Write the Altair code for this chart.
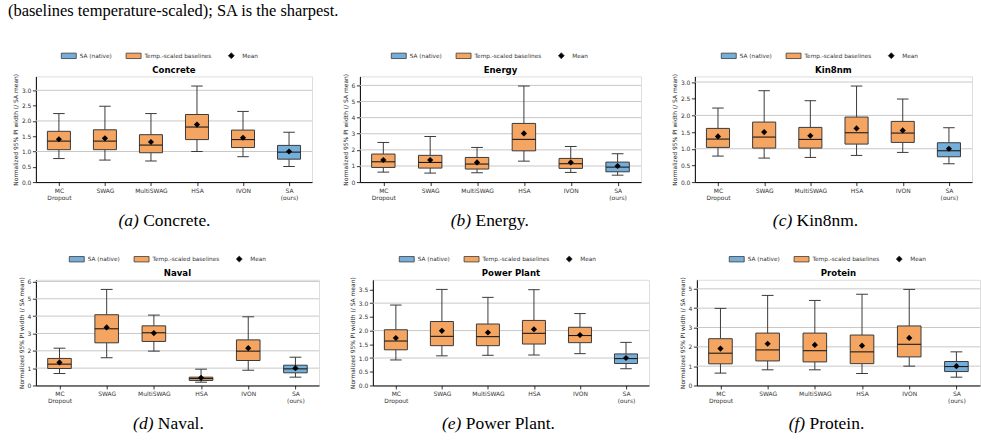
import json
import altair as alt
import pandas as pd

# ---- shared categories -------------------------------------------------
methods = ["MC Dropout", "SWAG", "MultiSWAG", "HSA", "IVON", "SA (ours)"]
tick_lines = [["MC", "Dropout"], ["SWAG"], ["MultiSWAG"], ["HSA"], ["IVON"], ["SA", "(ours)"]]
box_groups = ["Temp.-scaled baselines"] * 5 + ["SA (native)"]
legend_names = ["SA (native)", "Temp.-scaled baselines", "Mean"]

# ---- box statistics (normalized 95% PI width, / SA mean) ---------------
concrete_lo = [0.77, 0.72, 0.69, 1.00, 0.83, 0.51]
concrete_q1 = [1.06, 1.06, 0.96, 1.39, 1.13, 0.75]
concrete_med = [1.34, 1.34, 1.21, 1.80, 1.39, 0.98]
concrete_q3 = [1.66, 1.71, 1.55, 2.21, 1.70, 1.20]
concrete_hi = [2.24, 2.48, 2.24, 3.14, 2.31, 1.63]
concrete_mean = [1.40, 1.43, 1.31, 1.88, 1.45, 1.00]

energy_lo = [0.62, 0.56, 0.58, 1.30, 0.60, 0.43]
energy_q1 = [0.91, 0.87, 0.81, 1.94, 0.85, 0.64]
energy_med = [1.26, 1.22, 1.12, 2.65, 1.14, 0.93]
energy_q3 = [1.74, 1.66, 1.53, 3.64, 1.47, 1.24]
energy_hi = [2.46, 2.83, 2.15, 5.96, 2.21, 1.76]
energy_mean = [1.37, 1.37, 1.22, 3.02, 1.22, 1.00]

kin8nm_lo = [0.78, 0.72, 0.74, 0.80, 0.89, 0.55]
kin8nm_q1 = [1.04, 1.02, 1.02, 1.14, 1.19, 0.76]
kin8nm_med = [1.29, 1.35, 1.28, 1.48, 1.47, 0.94]
kin8nm_q3 = [1.61, 1.80, 1.64, 1.95, 1.82, 1.18]
kin8nm_hi = [2.22, 2.74, 2.44, 2.88, 2.49, 1.63]
kin8nm_mean = [1.37, 1.50, 1.39, 1.61, 1.55, 1.00]

naval_lo = [0.69, 1.60, 1.98, 0.19, 0.88, 0.48]
naval_q1 = [0.98, 2.46, 2.54, 0.29, 1.44, 0.73]
naval_med = [1.23, 3.27, 3.04, 0.40, 1.98, 0.96]
naval_q3 = [1.56, 4.08, 3.44, 0.48, 2.63, 1.17]
naval_hi = [2.15, 5.54, 4.06, 0.94, 3.96, 1.63]
naval_mean = [1.33, 3.35, 3.02, 0.44, 2.15, 1.00]

power_lo = [0.93, 1.08, 1.10, 1.11, 1.16, 0.61]
power_q1 = [1.30, 1.45, 1.45, 1.51, 1.56, 0.80]
power_med = [1.62, 1.79, 1.78, 1.90, 1.82, 0.98]
power_q3 = [2.03, 2.33, 2.24, 2.37, 2.12, 1.15]
power_hi = [2.93, 3.50, 3.21, 3.49, 2.62, 1.57]
power_mean = [1.73, 1.99, 1.93, 2.05, 1.84, 1.00]

protein_lo = [0.64, 0.81, 0.81, 0.62, 1.00, 0.43]
protein_q1 = [1.12, 1.27, 1.22, 1.13, 1.48, 0.72]
protein_med = [1.67, 1.84, 1.80, 1.74, 2.13, 0.98]
protein_q3 = [2.42, 2.71, 2.71, 2.61, 3.08, 1.24]
protein_hi = [3.99, 4.66, 4.40, 4.72, 4.97, 1.74]
protein_mean = [1.91, 2.16, 2.10, 2.06, 2.46, 1.00]

# y tick values per dataset
ticks_half_3 = [0, 0.5, 1.0, 1.5, 2.0, 2.5, 3.0]
ticks_int_6 = [0, 1, 2, 3, 4, 5, 6]
ticks_half_35 = [0, 0.5, 1.0, 1.5, 2.0, 2.5, 3.0, 3.5]
ticks_int_5 = [0, 1, 2, 3, 4, 5]

# ---- styling -----------------------------------------------------------
ORANGE = "#F4A562"
BLUE = "#76AEDA"
EDGE = "#3a3a3a"
SANS = "DejaVu Sans"
SERIF = "Liberation Serif"
PLOT_H = 106
RECT_PATH = "M-1,-0.36H1V0.36H-1Z"
DIAMOND_PATH = "M0,-0.4L0.4,0L0,0.4L-0.4,0Z"

# Times-style advance widths (em) for caption centering
ROMAN_W = {"(": .333, ")": .333, " ": .25, ".": .25, "a": .444, "c": .444, "e": .444,
           "g": .5, "i": .278, "l": .278, "m": .778, "n": .5, "o": .5, "r": .333,
           "t": .278, "v": .5, "w": .722, "y": .5, "8": .5, "C": .667, "E": .611,
           "K": .722, "N": .722, "P": .556}
ITALIC_W = {"(": .333, ")": .333, "a": .5, "b": .5, "c": .444, "d": .5, "e": .444, "f": .278}


def text_width(s, size, table):
    return sum(table.get(ch, 0.5) for ch in s) * size


label_expr = json.dumps(tick_lines) + "[datum.value - 1]"
color_scale = alt.Scale(domain=legend_names, range=[BLUE, ORANGE, "black"])
shape_scale = alt.Scale(domain=legend_names, range=[RECT_PATH, RECT_PATH, DIAMOND_PATH])


def panel(name, letter, lo, q1, med, q3, hi, mean, ticks, fmt, width, legend_x, cap_cx):
    df = pd.DataFrame({
        "method": methods, "pos": list(range(1, len(methods) + 1)), "group": box_groups,
        "lo": lo, "q1": q1, "med": med, "q3": q3, "hi": hi, "mean": mean,
    })
    ymax = 1.1 * max(hi)
    ysc = alt.Scale(domain=[0, ymax], nice=False, zero=True)
    xsc = alt.Scale(domain=[0.5, len(methods) + 0.5], nice=False, zero=False)
    legend = alt.Legend(orient="none", legendX=legend_x, legendY=-29, direction="horizontal",
                        columns=3, title=None, labelFont=SANS, labelFontSize=5.8,
                        labelColor="#333", symbolSize=225, symbolStrokeColor=EDGE,
                        symbolStrokeWidth=0.8, columnPadding=11, labelOffset=3)

    x_axis = alt.Axis(values=list(range(1, len(methods) + 1)), labelExpr=label_expr, title=None,
                      grid=False, tickSize=3.5, tickWidth=0.8, tickColor="black", domainColor="black",
                      domainWidth=1, labelFont=SANS, labelFontSize=6, labelColor="#333",
                      labelPadding=2, labelLineHeight=7, labelAngle=0, labelFlush=False,
                      labelOverlap=False)
    y_axis = alt.Axis(values=ticks, format=fmt, title="Normalized 95% PI width (/ SA mean)",
                      grid=False, tickSize=3.5, tickWidth=0.8, tickColor="black", domainColor="black",
                      domainWidth=1, labelFont=SANS, labelFontSize=6, labelColor="#333",
                      labelPadding=1.5, titleFont=SANS, titleFontSize=6, titleFontWeight="normal",
                      titleColor="#222", titlePadding=3, labelFlush=False, labelOverlap=False,
                      labelBound=False)

    def X(field):
        return alt.X(field, type="quantitative", scale=xsc, axis=x_axis)

    def Y(field):
        return alt.Y(field, type="quantitative", scale=ysc, axis=y_axis)

    base = alt.Chart(df).transform_calculate(
        left="datum.pos - 0.25", right="datum.pos + 0.25",
        cl="datum.pos - 0.125", cr="datum.pos + 0.125")

    # horizontal reference lines at whole-number ticks
    grid = alt.Chart(pd.DataFrame({"g": [t for t in ticks if t >= 1 and float(t).is_integer()]})).mark_rule(
        color="#c8c8c8", strokeWidth=1).encode(y=Y("g"))

    whisk_hi = base.mark_rule(color=EDGE, strokeWidth=1).encode(x=X("pos"), y=Y("q3"), y2="hi:Q")
    whisk_lo = base.mark_rule(color=EDGE, strokeWidth=1).encode(x=X("pos"), y=Y("lo"), y2="q1:Q")
    cap_hi = base.mark_rule(color=EDGE, strokeWidth=1).encode(x=X("cl"), x2="cr:Q", y=Y("hi"))
    cap_lo = base.mark_rule(color=EDGE, strokeWidth=1).encode(x=X("cl"), x2="cr:Q", y=Y("lo"))
    box = base.mark_rect(stroke=EDGE, strokeWidth=1).encode(
        x=X("left"), x2="right:Q", y=Y("q1"), y2="q3:Q",
        color=alt.Color("group:N", scale=color_scale, legend=legend))
    median = base.mark_rule(color="#1a1a1a", strokeWidth=1.1).encode(
        x=X("left"), x2="right:Q", y=Y("med"))
    mean_pts = base.transform_calculate(group="'Mean'").mark_point(
        filled=True, opacity=1, size=240, strokeWidth=0).encode(
        x=X("pos"), y=Y("mean"),
        color=alt.Color("group:N", scale=color_scale, legend=legend),
        shape=alt.Shape("group:N", scale=shape_scale, legend=legend))

    title = alt.Chart(pd.DataFrame({"t": [name]})).mark_text(
        font=SANS, fontSize=8.6, fontWeight="bold", color="black", align="center",
        baseline="alphabetic").encode(text="t:N", x=alt.value(width / 2), y=alt.value(-3.5))

    # subfigure caption: italic letter followed by roman name
    cap_size = 17.5
    tag = "(" + letter + ")"
    label = name + "."
    w_tag = text_width(tag, cap_size, ITALIC_W)
    w_gap = 0.25 * cap_size
    w_lab = text_width(label, cap_size, ROMAN_W)
    start = cap_cx - (w_tag + w_gap + w_lab) / 2
    cap_tag = alt.Chart(pd.DataFrame({"t": [tag]})).mark_text(
        font=SERIF, fontSize=cap_size, fontStyle="italic", color="black", align="left",
        baseline="middle").encode(text="t:N", x=alt.value(start), y=alt.value(PLOT_H + 39))
    cap_lab = alt.Chart(pd.DataFrame({"t": [label]})).mark_text(
        font=SERIF, fontSize=cap_size, color="black", align="left",
        baseline="middle").encode(text="t:N", x=alt.value(start + w_tag + w_gap), y=alt.value(PLOT_H + 39))

    return alt.layer(grid, whisk_hi, whisk_lo, cap_hi, cap_lo, box, median, mean_pts,
                     title, cap_tag, cap_lab).properties(width=width, height=PLOT_H)


pa = panel("Concrete", "a", concrete_lo, concrete_q1, concrete_med, concrete_q3, concrete_hi,
           concrete_mean, ticks_half_3, ".1f", 277, 25, 129)
pb = panel("Energy", "b", energy_lo, energy_q1, energy_med, energy_q3, energy_hi,
           energy_mean, ticks_int_6, "d", 282, 31, 131)
pc = panel("Kin8nm", "c", kin8nm_lo, kin8nm_q1, kin8nm_med, kin8nm_q3, kin8nm_hi,
           kin8nm_mean, ticks_half_3, ".1f", 278, 26, 121)
pd_ = panel("Naval", "d", naval_lo, naval_q1, naval_med, naval_q3, naval_hi,
            naval_mean, ticks_int_6, "d", 284, 33, 133)
pe = panel("Power Plant", "e", power_lo, power_q1, power_med, power_q3, power_hi,
           power_mean, ticks_half_35, ".1f", 277, 26, 126)
pf = panel("Protein", "f", protein_lo, protein_q1, protein_med, protein_q3, protein_hi,
           protein_mean, ticks_int_5, "d", 284, 32, 130)

row1 = alt.hconcat(pa, pb, pc, spacing=28).resolve_scale(color="independent", shape="independent")
row2 = alt.hconcat(pd_, pe, pf, spacing=28).resolve_scale(color="independent", shape="independent")

chart = alt.vconcat(
    row1, row2, spacing=20,
    title=alt.TitleParams("(baselines temperature-scaled); SA is the sharpest.", anchor="start",
                          font=SERIF, fontSize=16.5, fontWeight="normal", color="black",
                          offset=28, dx=-4),
).resolve_scale(color="independent", shape="independent").properties(
    padding={"left": 7, "top": 2, "right": 0, "bottom": 0}
).configure_view(stroke=None).configure(background="white")

chart.save("out.html", embed_options={"renderer": "svg", "actions": False})
